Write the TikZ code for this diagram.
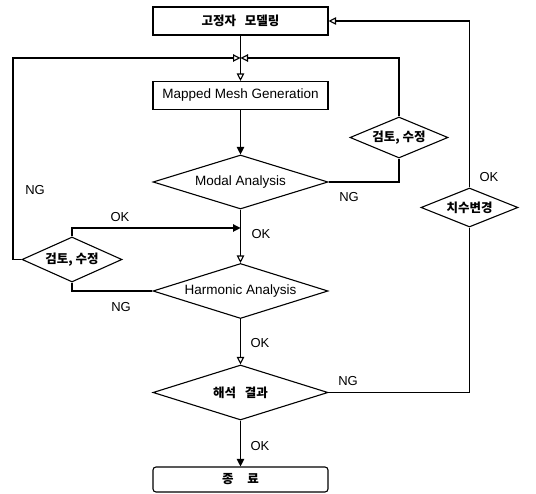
\documentclass[tikz,border=0pt]{standalone}
\usepackage{fontspec}
\setmainfont{Liberation Sans}
\newfontfamily\kr{Noto Sans CJK KR}
\usetikzlibrary{shapes.geometric,arrows.meta}

\begin{document}
\begin{tikzpicture}[x=1pt,y=-1pt,
  line width=1.1pt,
  every node/.style={font=\fontsize{13.5}{15}\selectfont},
  procbox/.style={draw,rectangle,minimum width=175pt,minimum height=28pt,inner sep=0pt},
  endbox/.style={procbox,rounded corners=3pt,minimum height=25pt},
  bigdec/.style={draw,diamond,aspect=3.2,minimum width=175pt,minimum height=55pt,inner sep=0pt},
  smalldec/.style={draw,diamond,aspect=2.2,minimum width=98pt,minimum height=42pt,inner sep=0pt},
  krtext/.style={font=\kr\bfseries\fontsize{12.5}{14}\selectfont},
  lbl/.style={font=\fontsize{13}{15}\selectfont,inner sep=0pt},
  arr/.style={-{Triangle[open,length=7.5pt,width=7.5pt]}},
  arrf/.style={-{Triangle[length=7.5pt,width=7.5pt]}}
]
\useasboundingbox (0,0) rectangle (536,494);

% main column
\node[procbox,krtext] (top) at (240.5,21) {고정자\hspace{0.7em}모델링};
\node[procbox] (mesh) at (240.5,95.5) {Mapped Mesh Generation};
\node[bigdec,minimum height=54pt] (modal) at (240.5,182) {Modal Analysis};
\node[bigdec] (harm) at (240.5,291) {Harmonic Analysis};
\node[bigdec,krtext] (res) at (240.5,392.5) {해석\hspace{0.7em}결과};
\node[endbox,krtext] (end) at (240.5,479.5) {종\hspace{1.1em}료};

% side decisions
\node[smalldec,krtext,minimum height=41pt] (chkR) at (399,137.5) {검토, 수정};
\node[smalldec,krtext,minimum width=100pt,minimum height=45pt] (chkL) at (72,259.5) {검토, 수정};
\node[smalldec,krtext,minimum width=97pt,minimum height=39pt] (chg) at (469.5,207.5) {치수변경};

% junctions
\coordinate (j) at (240.5,58);
\coordinate (lft) at (13,58);
\coordinate (okj) at (240.5,228);

% connectors
\draw (top.south) -- (j);
\draw[arr] (j) -- (mesh.north);
\draw[arr] (chkL.west) -| (lft) -- (j);
\draw[arr] (chkR.north) |- (j);
\draw[arrf] (mesh.south) -- (modal.north);
\draw (modal.east) -| (chkR.south);
\draw[arr] (modal.south) -- (harm.north);
\draw[arrf] (chkL.north) |- (okj);
\draw (chkL.south) |- (harm.west);
\draw[arr] (harm.south) -- (res.north);
\draw (res.east) -| (chg.south);
\draw[arr] (chg.north) |- (top.east);
\draw[arrf] (res.south) -- (end.north);

% branch labels
\node[lbl] (ng1) at (35,190) {NG};
\node[lbl] (ok1) at (120,217) {OK};
\node[lbl] (ok2) at (261,234) {OK};
\node[lbl] (ng2) at (349,197) {NG};
\node[lbl] (ok3) at (489,177) {OK};
\node[lbl] (ng3) at (121,307) {NG};
\node[lbl] (ok4) at (260,343) {OK};
\node[lbl] (ng4) at (348,381) {NG};
\node[lbl] (ok5) at (260,446) {OK};
\end{tikzpicture}
\end{document}
